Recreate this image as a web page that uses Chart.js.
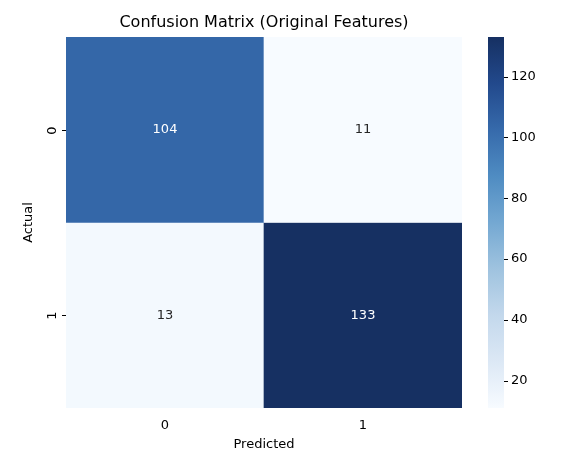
<!DOCTYPE html>
<html>
<head>
<meta charset="utf-8">
<script src="https://cdn.jsdelivr.net/npm/chart.js@4"></script>
<style>body{margin:0;background:#fff}</style>
</head>
<body>
<canvas id="c" width="572" height="474"></canvas>
<script>
const xLabels = ['0', '1'];
const yLabels = ['0', '1'];
const matrix = [[104, 11], [13, 133]];
const barTicks = [20, 40, 60, 80, 100, 120];
const vmin = 11, vmax = 133;

// Blues-like colour ramp matched to the reference
const blues = ['#f7fbff','#dce8f5','#c3d8ec','#9fc3df','#74a8d2','#4f8cc2','#366aab','#22498c','#163062'];
function hex(c) { return [1, 3, 5].map(i => parseInt(c.substr(i, 2), 16)); }
function colorFor(v) {
  let t = Math.max(0, Math.min(1, (v - vmin) / (vmax - vmin))) * (blues.length - 1);
  let i = Math.min(Math.floor(t), blues.length - 2), f = t - i;
  let a = hex(blues[i]), b = hex(blues[i + 1]);
  return 'rgb(' + a.map((x, k) => Math.round(x + (b[k] - x) * f)).join(',') + ')';
}

const font = 'DejaVu Sans';
const datasets = yLabels.map((r, ri) => ({
  data: xLabels.map((_, ci) => [ri, ri + 1]),
  values: matrix[ri],
  backgroundColor: matrix[ri].map(colorFor),
  grouped: false,
  barPercentage: 1,
  categoryPercentage: 1,
  yAxisID: 'y'
}));

const extras = {
  id: 'extras',
  afterDatasetsDraw(chart) {
    const ctx = chart.ctx;
    ctx.save();
    ctx.font = '13px ' + font;
    ctx.textAlign = 'center';
    ctx.textBaseline = 'middle';
    chart.data.datasets.forEach((ds, di) => {
      chart.getDatasetMeta(di).data.forEach((bar, i) => {
        const v = ds.values[i];
        ctx.fillStyle = (v - vmin) / (vmax - vmin) > 0.5 ? '#ffffff' : '#262626';
        ctx.fillText(String(v), bar.x, (bar.y + bar.base) / 2);
      });
    });
    const a = chart.chartArea;
    ctx.fillStyle = '#000';
    ctx.font = '16px ' + font;
    ctx.fillText('Confusion Matrix (Original Features)', (a.left + a.right) / 2, 23);
    // colorbar
    const s = chart.scales.cb;
    const x0 = 488, w = 16;
    const g = ctx.createLinearGradient(0, s.getPixelForValue(vmin), 0, s.getPixelForValue(vmax));
    blues.forEach((c, i) => g.addColorStop(i / (blues.length - 1), c));
    ctx.fillStyle = g;
    ctx.fillRect(x0, a.top, w, a.bottom - a.top);
    ctx.strokeStyle = '#000';
    ctx.lineWidth = 1;
    barTicks.forEach(t => {
      const y = Math.round(s.getPixelForValue(t)) + 0.5;
      ctx.beginPath(); ctx.moveTo(x0 + w, y); ctx.lineTo(x0 + w + 4, y); ctx.stroke();
    });
    // y tick marks and rotated labels
    const ys = chart.scales.y;
    ctx.fillStyle = '#000';
    ctx.font = '13px ' + font;
    yLabels.forEach((l, i) => {
      const y = Math.round(ys.getPixelForValue(i + 0.5)) + 0.5;
      ctx.beginPath(); ctx.moveTo(a.left - 4, y); ctx.lineTo(a.left, y); ctx.stroke();
      ctx.save(); ctx.translate(a.left - 13, y); ctx.rotate(-Math.PI / 2);
      ctx.fillText(l, 0, 0); ctx.restore();
    });
    ctx.restore();
  }
};

function noPad(s) { s.paddingTop = 0; s.paddingBottom = 0; s.paddingLeft = 0; s.paddingRight = 0; }

new Chart(document.getElementById('c'), {
  type: 'bar',
  data: { labels: xLabels, datasets: datasets },
  plugins: [extras],
  options: {
    responsive: false,
    animation: false,
    layout: { padding: { top: 37, left: 21, right: 0, bottom: 22 } },
    plugins: { legend: { display: false }, tooltip: { enabled: false } },
    scales: {
      x: {
        grid: { display: false, drawTicks: true, tickLength: 4 },
        border: { display: false },
        ticks: { color: '#000', font: { family: font, size: 13 }, padding: 6 },
        title: { display: true, text: 'Predicted', color: '#000', font: { family: font, size: 13 }, padding: 0 },
        afterFit(s) { s.height = 44; noPad(s); }
      },
      y: {
        min: 0, max: 2, reverse: true,
        grid: { display: false },
        border: { display: false },
        ticks: { display: false },
        title: { display: true, text: 'Actual', color: '#000', font: { family: font, size: 13 }, padding: 0 },
        afterFit(s) { s.width = 45; noPad(s); }
      },
      cb: {
        position: 'right',
        min: vmin, max: vmax,
        grid: { display: false, drawTicks: false },
        border: { display: false },
        afterBuildTicks(s) { s.ticks = barTicks.map(v => ({ value: v })); },
        ticks: { color: '#000', font: { family: font, size: 13 }, padding: 49 },
        afterFit(s) { s.width = 110; noPad(s); }
      }
    }
  }
});
</script>
</body>
</html>
